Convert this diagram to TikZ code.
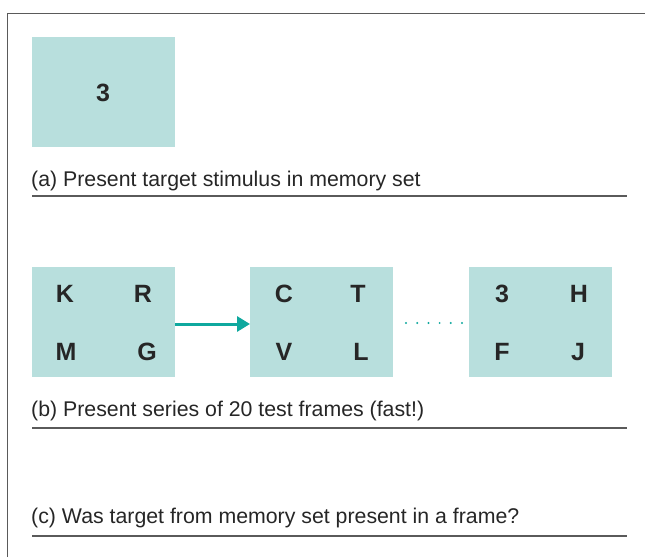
\documentclass[tikz,border=0pt]{standalone}
\usepackage{fontspec}
\setmainfont{Liberation Sans}
\usetikzlibrary{arrows.meta}
\definecolor{boxfill}{HTML}{B8DFDD}
\definecolor{teal}{HTML}{0FA89E}
\definecolor{rulegray}{HTML}{5A5A5A}
\tikzset{
  frame/.style={fill=boxfill, draw=none, minimum width=143pt, minimum height=110pt, inner sep=0pt, anchor=north west},
  letter/.style={font=\fontsize{25}{28}\selectfont\bfseries, text=black!85, inner sep=0pt},
  caption/.style={font=\fontsize{21.3}{24}\selectfont, text=black!85, anchor=base west, inner sep=0pt},
  rule/.style={draw=rulegray, line width=1.4pt},
  border/.style={draw=rulegray, line width=0.8pt},
  dotmark/.style={fill=teal},
}
\begin{document}
\begin{tikzpicture}[x=1pt,y=-1pt]
\useasboundingbox (0,0) rectangle (645,557);
% outer border
\coordinate (bTL) at (7,13);
\coordinate (bTR) at (645,13);
\coordinate (bBL) at (7,557);
\draw[border] (bBL) -- (bTL) -- (bTR);

% (a)
\node[frame] (fa) at (32,37) {};
\node[letter] (a3) at (103,93) {3};
\node[caption] (ca) at (31,186) {(a) Present target stimulus in memory set};
\coordinate (la1) at (32,196);
\coordinate (la2) at (627,196);
\draw[rule] (la1) -- (la2);

% (b)
\node[frame] (f1) at (32,267) {};
\node[frame] (f2) at (250,267) {};
\node[frame] (f3) at (469,267) {};
\node[letter] (k) at (65,294) {K};
\node[letter] (r) at (143,294) {R};
\node[letter] (m) at (66,352) {M};
\node[letter] (g) at (147,352) {G};
\node[letter] (c) at (284,294) {C};
\node[letter] (t) at (358,294) {T};
\node[letter] (v) at (284,352) {V};
\node[letter] (l) at (361,352) {L};
\node[letter] (t3) at (502,294) {3};
\node[letter] (h) at (579,294) {H};
\node[letter] (f) at (502,352) {F};
\node[letter] (j) at (578,352) {J};
\draw[teal, line width=3pt, -{Triangle[length=13pt,width=15pt]}] (f1.east |- 0,324) -- (f2.west |- 0,324);
\foreach \i in {0,...,5} {
  \fill[dotmark] (406+11.2*\i,323) circle (1.1pt);
}
\node[caption] (cb) at (31,416) {(b) Present series of 20 test frames (fast!)};
\coordinate (lb1) at (32,428);
\coordinate (lb2) at (627,428);
\draw[rule] (lb1) -- (lb2);

% (c)
\node[caption] (cc) at (31,523) {(c) Was target from memory set present in a frame?};
\coordinate (lc1) at (32,536);
\coordinate (lc2) at (627,536);
\draw[rule] (lc1) -- (lc2);
\end{tikzpicture}
\end{document}
